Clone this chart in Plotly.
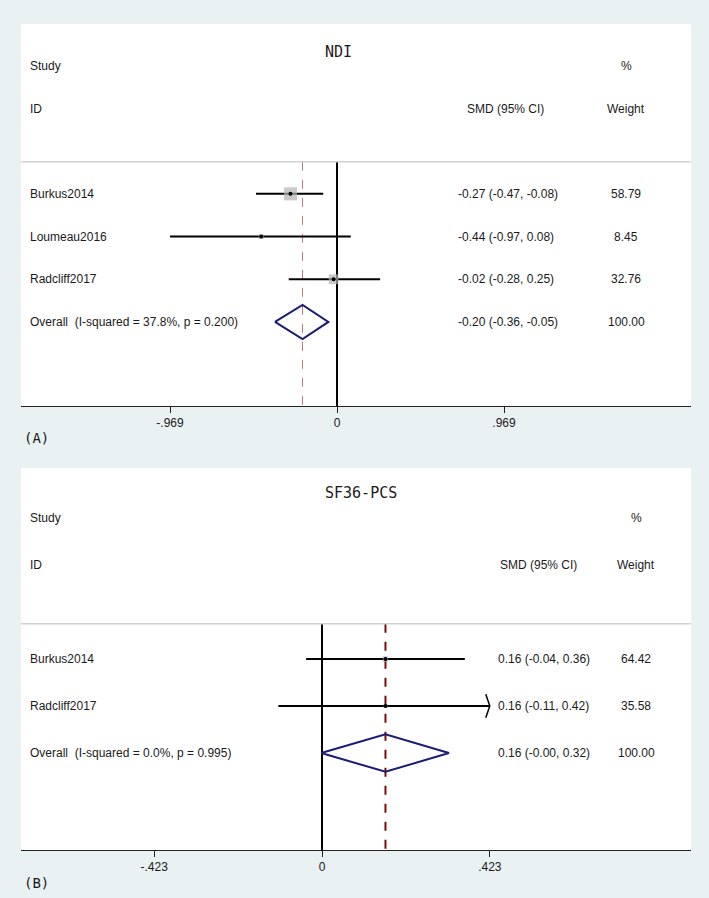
import plotly.graph_objects as go

# ---------------- data ----------------
title_a = "NDI"
studies_a = ["Burkus2014", "Loumeau2016", "Radcliff2017"]
smd_a = [-0.27, -0.44, -0.02]
lower_a = [-0.47, -0.969, -0.28]
upper_a = [-0.08, 0.08, 0.25]
weight_a = [58.79, 8.45, 32.76]
overall_a = [-0.20, -0.36, -0.05]
i2_a = "37.8%"
p_a = "0.200"
ticks_a = [-0.969, 0, 0.969]
ticklabels_a = ["-.969", "0", ".969"]

title_b = "SF36-PCS"
studies_b = ["Burkus2014", "Radcliff2017"]
smd_b = [0.16, 0.16]
lower_b = [-0.04, -0.11]
upper_b = [0.36, 0.424]
weight_b = [64.42, 35.58]
overall_b = [0.16, -0.002, 0.32]
i2_b = "0.0%"
p_b = "0.995"
ticks_b = [-0.423, 0, 0.423]
ticklabels_b = ["-.423", "0", ".423"]

# ---------------- layout helpers ----------------
W, H = 709, 898
def px(x):
    return x / W
def py(y):
    return 1 - y / H

TXT = dict(family="Liberation Sans, Arial, sans-serif", size=12, color="#1a1a1a")
TTL = dict(family="DejaVu Sans Mono, monospace", size=15, color="#1a1a1a")

fig = go.Figure()
annotations = []
shapes = []


def panel(xa, ya, yr, title, title_cx, title_row, studies, smd, lo, hi, w, ov, i2, p,
          ticks, box_k, smd_left, smd_hdr_cx, wt_cx, dash_color, dash_width, tag, tag_y):
    n = len(studies)
    rows = list(range(1, n + 1))
    ov_row = n + 1
    xmin, xmax = ticks[0], ticks[-1]
    ybot = yr[0]
    yref_ax = ya

    # header separator line
    shapes.append(dict(type="line", xref="paper", yref=yref_ax, x0=px(21), x1=px(691),
                       y0=0.25, y1=0.25, line=dict(color="#cfd3d4", width=1.5)))
    # null line
    fig.add_trace(go.Scatter(x=[0, 0], y=[0.25, ybot], mode="lines", xaxis=xa, yaxis=ya,
                             line=dict(color="black", width=2), hoverinfo="skip"))
    # overall dashed line
    fig.add_trace(go.Scatter(x=[ov[0], ov[0]], y=[0.25, ybot], mode="lines", xaxis=xa, yaxis=ya,
                             line=dict(color=dash_color, width=dash_width, dash="dash"),
                             hoverinfo="skip"))
    # CI lines (clipped to the tick range) + arrows
    for r, l, h in zip(rows, lo, hi):
        l2 = xmin if l < xmin else l
        h2 = xmax if h > xmax else h
        fig.add_trace(go.Scatter(x=[l2, h2], y=[r, r], mode="lines", xaxis=xa, yaxis=ya,
                                 line=dict(color="black", width=2), hoverinfo="skip"))
        dx = (xmax - xmin) * 0.012
        if h > xmax:
            fig.add_trace(go.Scatter(x=[xmax - dx, xmax, xmax - dx], y=[r - 0.25, r, r + 0.25],
                                     mode="lines", xaxis=xa, yaxis=ya,
                                     line=dict(color="black", width=1.5), hoverinfo="skip"))
        if l < xmin:
            fig.add_trace(go.Scatter(x=[xmin + dx, xmin, xmin + dx], y=[r - 0.25, r, r + 0.25],
                                     mode="lines", xaxis=xa, yaxis=ya,
                                     line=dict(color="black", width=1.5), hoverinfo="skip"))
    # weight boxes
    fig.add_trace(go.Scatter(x=smd, y=rows, mode="markers", xaxis=xa, yaxis=ya,
                             marker=dict(symbol="square", color="#b3b3b3",
                                         size=[box_k * (wi ** 0.5) for wi in w],
                                         line=dict(width=0)), hoverinfo="skip"))
    # point estimates
    fig.add_trace(go.Scatter(x=smd, y=rows, mode="markers", xaxis=xa, yaxis=ya,
                             marker=dict(symbol="circle", color="black", size=4),
                             hoverinfo="skip"))
    # overall diamond
    es, dl, dh = ov
    fig.add_trace(go.Scatter(x=[dl, es, dh, es, dl], y=[ov_row, ov_row - 0.4, ov_row, ov_row + 0.4, ov_row],
                             mode="lines", xaxis=xa, yaxis=ya,
                             line=dict(color="#1b1b78", width=2), hoverinfo="skip"))

    # texts
    def ann(text, x, y, xanchor="left", font=TXT, yref=yref_ax):
        annotations.append(dict(text=text, x=x, y=y, xref="paper", yref=yref,
                                xanchor=xanchor, yanchor="middle", showarrow=False, font=font))

    ann(title, px(title_cx), title_row, "center", TTL)
    ann("Study", px(28), -2)
    ann("ID", px(28), -1)
    ann("%", px(wt_cx), -2, "center")
    ann("Weight", px(wt_cx), -1, "center")
    ann("SMD (95% CI)", px(smd_hdr_cx), -1, "center")
    for r, s, e, l, h, wi in zip(rows, studies, smd, lo, hi, w):
        ann(s, px(28), r)
        ann(f"{e:.2f} ({l:.2f}, {h:.2f})", px(smd_left), r)
        ann(f"{wi:.2f}", px(wt_cx), r, "center")
    ann(f"Overall\u00a0\u00a0(I-squared = {i2}, p = {p})", px(28), ov_row)
    ann(f"{es:.2f} ({dl:.2f}, {dh:.2f})", px(smd_left), ov_row)
    ann(f"{sum(w):.2f}", px(wt_cx), ov_row, "center")
    annotations.append(dict(text=tag, x=px(22), y=py(tag_y), xref="paper", yref="paper",
                            xanchor="left", yanchor="middle", showarrow=False,
                            font=dict(family="DejaVu Sans Mono, monospace", size=14, color="#1a1a1a")))


yr_a = [5.97, -2.98]
yr_b = [5.064, -3.064]

panel("x", "y", yr_a, title_a, 338, -2.33, studies_a, smd_a, lower_a, upper_a, weight_a,
      overall_a, i2_a, p_a, ticks_a, 1.7, 456, 505, 626, "#b77a7a", 1, "(A)", 438)
panel("x2", "y2", yr_b, title_b, 361, -2.53, studies_b, smd_b, lower_b, upper_b, weight_b,
      overall_b, i2_b, p_b, ticks_b, 0.68, 496, 538, 636, "#7d0c0c", 2, "(B)", 883)

# x ranges from pixel calibration
sa = 167 / 0.969
range_a = [(21 - 337) / sa, (691 - 337) / sa]
sb = 167.8 / 0.423
range_b = [(21 - 322) / sb, (691 - 322) / sb]

axis_common = dict(domain=[px(21), px(691)], showgrid=False, zeroline=False, showline=True,
                   linecolor="#222", linewidth=1, ticks="outside", ticklen=6, tickwidth=1,
                   tickcolor="#222", tickfont=TXT, fixedrange=True)

fig.update_layout(
    width=W, height=H, margin=dict(l=0, r=0, t=0, b=0),
    paper_bgcolor="#e9f1f3", plot_bgcolor="white", showlegend=False,
    xaxis=dict(axis_common, anchor="y", range=range_a, tickvals=ticks_a, ticktext=ticklabels_a),
    yaxis=dict(domain=[py(406), py(24)], range=yr_a, visible=False, fixedrange=True),
    xaxis2=dict(axis_common, anchor="y2", range=range_b, tickvals=ticks_b, ticktext=ticklabels_b),
    yaxis2=dict(domain=[py(850), py(468)], range=yr_b, visible=False, fixedrange=True),
    annotations=annotations, shapes=shapes,
)

fig.write_html("out.html", config={"displayModeBar": False},
               post_script="document.body.style.margin='0';document.body.style.overflow='hidden';")
